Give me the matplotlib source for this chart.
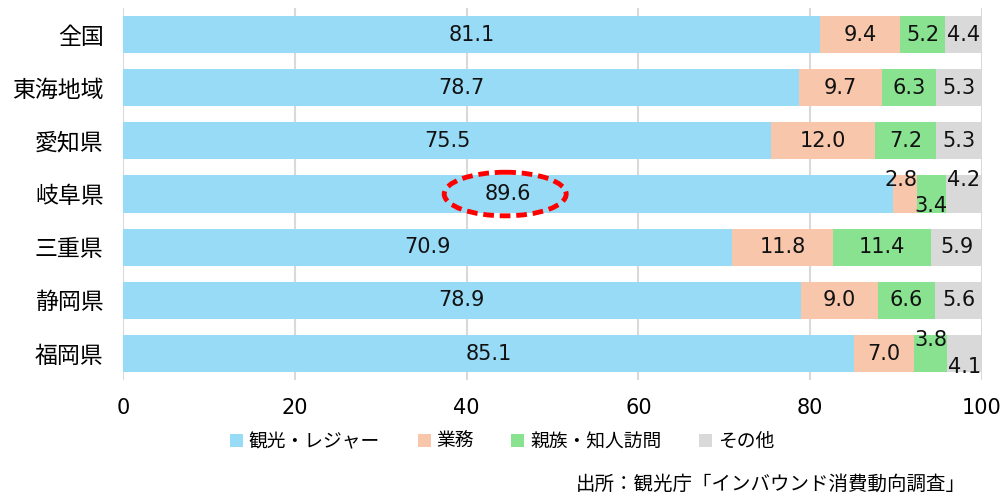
import matplotlib.pyplot as plt
from matplotlib.patches import Ellipse

plt.rcParams['font.family'] = ['DejaVu Sans', 'Noto Sans CJK JP']

regions = ['全国', '東海地域', '愛知県', '岐阜県', '三重県', '静岡県', '福岡県']
series = ['観光・レジャー', '業務', '親族・知人訪問', 'その他']
leisure = [81.1, 78.7, 75.5, 89.6, 70.9, 78.9, 85.1]
business = [9.4, 9.7, 12.0, 2.8, 11.8, 9.0, 7.0]
visit = [5.2, 6.3, 7.2, 3.4, 11.4, 6.6, 3.8]
other = [4.4, 5.3, 5.3, 4.2, 5.9, 5.6, 4.1]
colors = ['#97DBF7', '#F7C6AB', '#88E290', '#D9D9D9']

# label nudges for the thin segments: (row, series) -> (dx, dy)
nudge = {(3, 1): (-0.4, -0.26), (3, 2): (0.0, 0.23), (3, 3): (0.0, -0.26),
         (6, 2): (0.0, -0.26), (6, 3): (0.0, 0.25)}

fig = plt.figure(figsize=(10.04, 4.95), dpi=100)
ax = fig.add_axes([0.1225, 0.232, 0.8555, 0.752])

data = [leisure, business, visit, other]
y = list(range(len(regions)))
left = [0.0] * len(regions)
for s, vals in enumerate(data):
    ax.barh(y, vals, left=left, height=0.7, color=colors[s], label=series[s], zorder=2)
    for i, v in enumerate(vals):
        dx, dy = nudge.get((i, s), (0, 0))
        ax.text(left[i] + v / 2 + dx, i + dy, f'{v:.1f}', ha='center', va='center',
                fontsize=15, color='#111111', zorder=4)
    left = [l + v for l, v in zip(left, vals)]

# highlight Gifu
ax.add_patch(Ellipse((44.5, 3), 14.2, 0.82, fill=False, edgecolor='red',
                     linestyle=(0, (2.2, 1.2)), linewidth=3.5, zorder=5))

ax.set_yticks(y)
ax.set_yticklabels(regions, fontsize=16.5)
ax.set_ylim(6.5, -0.5)
ax.set_xlim(0, 100)
ax.set_xticks([0, 20, 40, 60, 80, 100])
ax.tick_params(axis='x', length=0, labelsize=15, pad=13)
ax.tick_params(axis='y', length=0, pad=14)
ax.grid(axis='x', color='#D9D9D9', linewidth=1.5, zorder=0)
for sp in ax.spines.values():
    sp.set_visible(False)

fig.legend(loc='center', bbox_to_anchor=(0.5, 0.108), ncol=4, frameon=False,
           fontsize=13.5, handlelength=0.7, handleheight=0.7, handletextpad=0.3,
           columnspacing=2.0)
fig.text(0.962, 0.022, '出所：観光庁「インバウンド消費動向調査」', ha='right',
         va='center', fontsize=14)

fig.savefig('out.png')
